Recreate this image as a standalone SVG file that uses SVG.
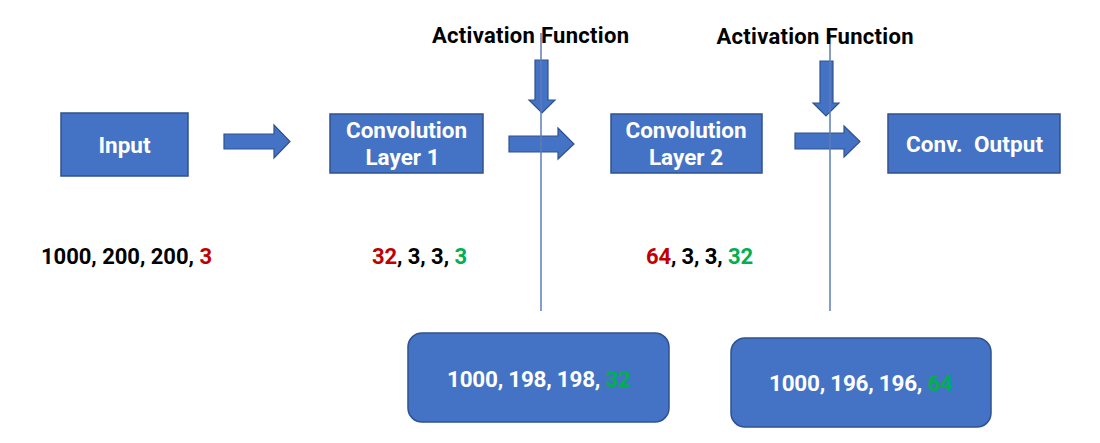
<svg xmlns="http://www.w3.org/2000/svg" width="1100" height="443" viewBox="0 0 1100 443">
  <style>
    .box { fill: #4472C4; stroke: #2F528F; stroke-width: 1.5; }
    .arrow { fill: #4472C4; stroke: #2F528F; stroke-width: 1.2; stroke-linejoin: miter; }
    .vline { stroke: #5B7DB8; stroke-width: 1.5; fill: none; }
    .lbl { font-family: Roboto, "Liberation Sans", Arial, sans-serif; font-weight: bold; fill: #FFFFFF; text-anchor: middle; font-size: 22.5px; }
    .head { font-family: Roboto, "Liberation Sans", Arial, sans-serif; font-weight: bold; fill: #000000; text-anchor: middle; font-size: 22px; }
    .dims { font-family: Roboto, "Liberation Sans", Arial, sans-serif; font-weight: bold; fill: #000000; font-size: 22px; }
    .red { fill: #C00000; }
    .green { fill: #00B050; }
  </style>
  <rect width="1100" height="443" fill="#FFFFFF"/>

  <g id="connectors">
    <polygon class="arrow" points="224,134 274,134 274,125 290,141.5 274,158 274,149 224,149"/>
    <polygon class="arrow" points="509,136 558,136 558,128 574,144 558,159 558,152 509,152"/>
    <polygon class="arrow" points="795,133 844,133 844,126 860,141.5 844,157 844,149 795,149"/>
    <polygon class="arrow" points="535,60 548,60 548,100 555,100 542,113 529,100 535,100"/>
    <polygon class="arrow" points="820,61 833,61 833,103 839,103 826,116 813,103 820,103"/>
    <line class="vline" x1="541" y1="33" x2="541" y2="311"/>
    <line class="vline" x1="830" y1="33" x2="830" y2="311"/>
  </g>

  <g id="input">
    <rect class="box" x="61" y="113" width="127" height="63"/>
    <text class="lbl" x="124.5" y="153">Input</text>
  </g>

  <g id="conv-layer-1">
    <rect class="box" x="330" y="114" width="153" height="59"/>
    <text class="lbl" x="406.5" y="138" textLength="121">Convolution</text>
    <text class="lbl" x="402.5" y="165">Layer 1</text>
  </g>

  <g id="conv-layer-2">
    <rect class="box" x="611" y="114" width="151" height="59"/>
    <text class="lbl" x="686" y="138" textLength="121">Convolution</text>
    <text class="lbl" x="686" y="165">Layer 2</text>
  </g>

  <g id="conv-output">
    <rect class="box" x="888" y="114" width="172" height="59"/>
    <text class="lbl" x="974.5" y="152" xml:space="preserve" textLength="137">Conv.  Output</text>
  </g>

  <g id="activation-1">
    <text class="head" x="530.5" y="43" textLength="197">Activation Function</text>
  </g>

  <g id="activation-2">
    <text class="head" x="815" y="44" textLength="197">Activation Function</text>
  </g>

  <g id="input-dims">
    <text class="dims" x="41" y="264" textLength="171">1000, 200, 200, <tspan class="red">3</tspan></text>
  </g>

  <g id="conv1-dims">
    <text class="dims" x="372" y="264" textLength="95"><tspan class="red">32</tspan>, 3, 3, <tspan class="green">3</tspan></text>
  </g>

  <g id="conv2-dims">
    <text class="dims" x="646" y="264" textLength="107"><tspan class="red">64</tspan>, 3, 3, <tspan class="green">32</tspan></text>
  </g>

  <g id="output-1">
    <rect class="box" x="408" y="333" width="261" height="89" rx="14" ry="14"/>
    <text class="lbl" x="539" y="387" textLength="184">1000, 198, 198, <tspan class="green">32</tspan></text>
  </g>

  <g id="output-2">
    <rect class="box" x="731" y="338" width="260" height="89" rx="14" ry="14"/>
    <text class="lbl" x="861" y="391" textLength="184">1000, 196, 196, <tspan class="green">64</tspan></text>
  </g>
</svg>
